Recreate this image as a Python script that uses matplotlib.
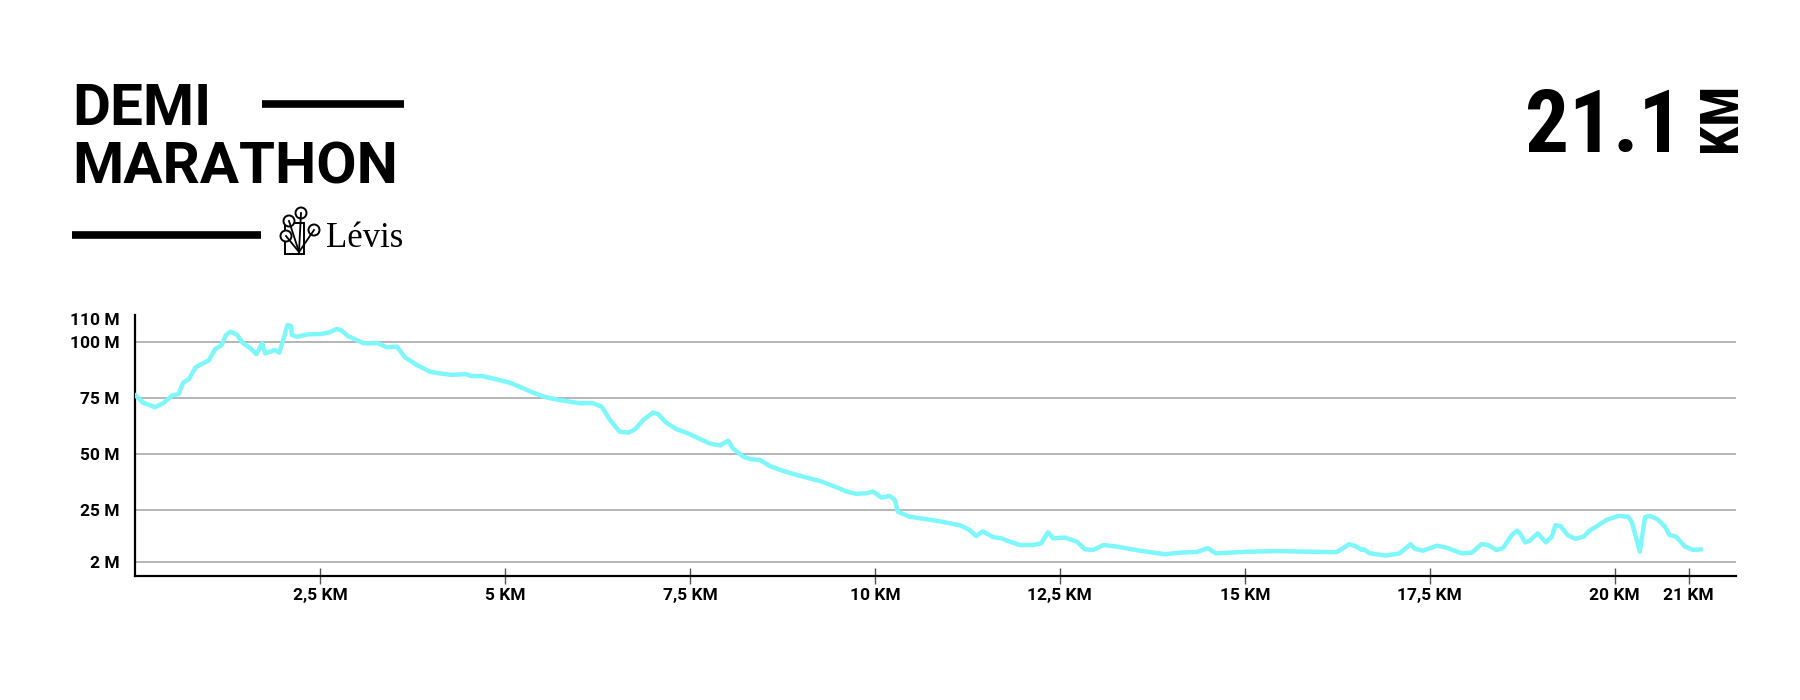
import matplotlib
matplotlib.use("Agg")
import matplotlib.pyplot as plt
from matplotlib import font_manager
from matplotlib.lines import Line2D
from matplotlib.patches import Circle, Rectangle

W, H = 1800, 700

# elevation profile (km, metres)
distance_km = [
    0.00, 0.11, 0.27, 0.38, 0.50, 0.59, 0.65, 0.73, 0.82, 1.00,
    1.08, 1.17, 1.23, 1.29, 1.38, 1.46, 1.56, 1.64, 1.72, 1.76,
    1.89, 1.95, 2.01, 2.06, 2.11, 2.12, 2.19, 2.34, 2.50, 2.61,
    2.73, 2.78, 2.88, 3.09, 3.29, 3.40, 3.54, 3.65, 3.81, 3.99,
    4.12, 4.28, 4.46, 4.55, 4.69, 4.89, 5.07, 5.20, 5.38, 5.56,
    5.74, 6.01, 6.19, 6.31, 6.42, 6.55, 6.67, 6.76, 6.87, 7.00,
    7.07, 7.18, 7.32, 7.45, 7.59, 7.77, 7.91, 8.02, 8.08, 8.22,
    8.33, 8.45, 8.58, 8.76, 8.99, 9.26, 9.44, 9.62, 9.75, 9.89,
    9.98, 10.09, 10.20, 10.27, 10.31, 10.47, 10.70, 10.92, 11.15, 11.28,
    11.37, 11.46, 11.60, 11.71, 11.82, 11.96, 12.14, 12.25, 12.34, 12.41,
    12.57, 12.73, 12.84, 12.95, 13.09, 13.27, 13.58, 13.92, 14.12, 14.35,
    14.50, 14.61, 15.02, 15.43, 15.74, 15.92, 16.24, 16.33, 16.41, 16.51,
    16.58, 16.61, 16.69, 16.91, 17.09, 17.18, 17.24, 17.30, 17.41, 17.60,
    17.73, 17.93, 18.07, 18.20, 18.29, 18.40, 18.49, 18.61, 18.68, 18.72,
    18.79, 18.85, 18.96, 19.07, 19.15, 19.20, 19.27, 19.37, 19.47, 19.58,
    19.66, 19.75, 19.89, 20.05, 20.18, 20.23, 20.34, 20.41, 20.47, 20.58,
    20.68, 20.74, 20.83, 20.95, 21.06, 21.17,
]
elevation_m = [
    76.3, 72.8, 70.8, 72.6, 75.9, 76.7, 81.7, 83.4, 88.6, 91.8,
    96.6, 98.5, 103.0, 104.5, 103.0, 99.3, 97.1, 94.4, 99.3, 94.8,
    96.3, 95.1, 101.5, 107.4, 107.0, 103.0, 102.2, 103.3, 103.4, 104.0,
    105.7, 105.2, 102.5, 99.3, 99.3, 97.5, 97.8, 93.0, 89.6, 86.6,
    85.9, 85.2, 85.6, 84.7, 84.7, 83.2, 81.7, 79.9, 77.3, 75.2,
    74.0, 72.6, 72.6, 71.0, 65.1, 59.9, 59.5, 61.0, 65.1, 68.4,
    67.8, 63.9, 61.0, 59.5, 57.4, 54.6, 53.8, 55.9, 52.5, 48.8,
    47.6, 47.3, 44.6, 42.4, 40.2, 37.9, 35.7, 33.2, 32.2, 32.5,
    33.2, 30.5, 31.3, 29.5, 24.3, 22.0, 20.9, 19.7, 18.2, 16.1,
    13.4, 15.5, 12.9, 12.4, 11.0, 9.4, 9.4, 10.2, 15.1, 12.4,
    12.7, 10.9, 7.5, 7.2, 9.4, 8.7, 6.9, 5.3, 6.0, 6.3,
    8.0, 5.7, 6.4, 6.7, 6.5, 6.4, 6.2, 8.0, 9.8, 8.7,
    7.2, 7.5, 5.7, 4.7, 5.7, 8.0, 9.8, 7.7, 6.9, 9.1,
    8.2, 5.7, 6.0, 9.8, 9.4, 7.2, 8.0, 13.9, 15.8, 14.6,
    10.6, 11.3, 14.6, 10.6, 13.1, 18.2, 17.8, 13.6, 12.2, 13.1,
    15.8, 17.6, 20.6, 22.4, 22.0, 19.8, 6.5, 21.8, 22.4, 20.9,
    17.6, 13.9, 13.1, 8.7, 7.2, 7.5,
]

y_ticks = [2, 25, 50, 75, 100, 110]
y_labels = ["2 M", "25 M", "50 M", "75 M", "100 M", "110 M"]
x_ticks = [2.5, 5, 7.5, 10, 12.5, 15, 17.5, 20, 21]
x_labels = ["2,5 KM", "5 KM", "7,5 KM", "10 KM", "12,5 KM",
            "15 KM", "17,5 KM", "20 KM", "21 KM"]


def pick_font(names):
    have = {f.name for f in font_manager.fontManager.ttflist}
    for n in names:
        if n in have:
            return n
    return "DejaVu Sans"


HEAD = pick_font(["Roboto", "DejaVu Sans"])
COND = pick_font(["Roboto Condensed", "Liberation Sans Narrow", "Roboto"])
SERIF = pick_font(["Liberation Serif", "DejaVu Serif"])


def fx(px):
    return px / W


def fy(py):
    return (H - py) / H


fig = plt.figure(figsize=(18, 7), dpi=100)
fig.patch.set_facecolor("white")

# profile chart
ax = fig.add_axes([fx(135), fy(576), fx(1736) - fx(135), fy(315) - fy(576)])
ax.plot(distance_km, elevation_m, color="#7ef7fb", lw=3.2,
        solid_joinstyle="round", solid_capstyle="round", zorder=3)
ax.set_xlim(0, 21.64)
ax.set_ylim(-4.4, 111.9)

ax.set_yticks(y_ticks)
ax.set_yticklabels(y_labels)
ax.set_xticks(x_ticks)
ax.set_xticklabels(x_labels)

ax.grid(axis="y", color="#b0b0b0", lw=1.3, zorder=1)
ax.get_ygridlines()[-1].set_visible(False)

for side in ["top", "right"]:
    ax.spines[side].set_visible(False)
for side in ["left", "bottom"]:
    ax.spines[side].set_color("black")
    ax.spines[side].set_linewidth(1.6)

ax.tick_params(axis="y", length=0, pad=11)
ax.tick_params(axis="x", direction="inout", length=11, width=1,
               color="#555555", pad=3)
for lab in ax.get_xticklabels() + ax.get_yticklabels():
    lab.set_fontfamily(HEAD)
    lab.set_fontweight("bold")
    lab.set_fontsize(12.5)
    lab.set_color("black")

# header text
fig.text(fx(72), fy(125), "DEMI", fontfamily=HEAD, fontweight="bold",
         fontsize=42, ha="left", va="baseline")
fig.text(fx(72), fy(184), "MARATHON", fontfamily=HEAD, fontweight="bold",
         fontsize=42, ha="left", va="baseline")
fig.add_artist(Line2D([fx(262), fx(404)], [fy(104), fy(104)], color="black",
                      lw=5.5, solid_capstyle="butt"))
fig.add_artist(Line2D([fx(72), fx(261)], [fy(235), fy(235)], color="black",
                      lw=5.5, solid_capstyle="butt"))

big = fig.text(fx(1682), fy(152), "21.1", fontfamily=COND, fontweight="bold",
               fontsize=69, ha="right", va="baseline")
km = fig.text(fx(1736), fy(152), "KM", fontfamily=COND, fontweight="bold",
              fontsize=38, ha="left", va="baseline", rotation=90,
              rotation_mode="anchor")

# squeeze the distance badge into the room it has in the reference
fig.canvas.draw()
rend = fig.canvas.get_renderer()
w = big.get_window_extent(rend).width
if w > 158:
    big.set_fontsize(69 * 158 / w)
h = km.get_window_extent(rend).height
if h > 72:
    km.set_fontsize(38 * 72 / h)

# Lévis logo, drawn in inches so circles stay round
tr = fig.dpi_scale_trans


def inch(px, py):
    return px / 100, (H - py) / 100


book = Rectangle(inch(285, 254), 0.19, 0.31, fill=False, ec="black", lw=1.4,
                 transform=tr)
fig.add_artist(book)
for cx, cy, r in [(301, 213, 5.5), (289, 221, 5.5), (286, 236, 5.5),
                  (314, 230, 5.5)]:
    fig.add_artist(Line2D([cx / 100, 2.99], [(H - cy) / 100, (H - 252) / 100],
                          color="black", lw=1.3, transform=tr))
    fig.add_artist(Circle(inch(cx, cy), r / 100, fc="white", ec="black",
                          lw=1.4, transform=tr))
fig.text(fx(326), fy(247), "Lévis", fontfamily=SERIF, fontsize=25,
         ha="left", va="baseline")

fig.savefig("out.png", dpi=100, facecolor="white")
